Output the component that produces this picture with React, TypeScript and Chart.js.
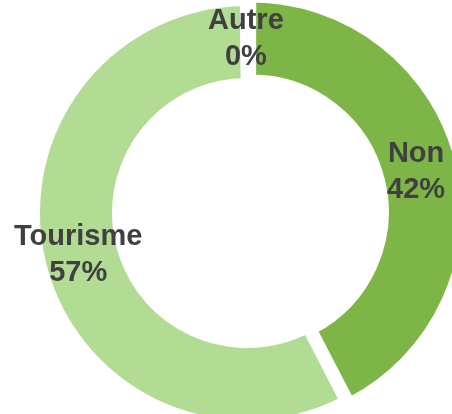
import React, { useEffect, useRef } from "react";
import { Chart, registerables } from "chart.js";

Chart.register(...registerables);

const categories = ["Non", "Tourisme", "Autre"];
const values = [42.4, 57.4, 0.2];
const colors = ["#7DB646", "#B2DC94", "#D9D9D9"];
const offsets = [18, 0, 0];

const labelPlugin = {
  id: "ringLabels",
  afterDatasetsDraw(chart: any) {
    const ctx = chart.ctx;
    const meta = chart.getDatasetMeta(0);
    const data = chart.data.datasets[0].data as number[];
    const total = data.reduce((a: number, b: number) => a + b, 0);
    ctx.save();
    ctx.fillStyle = "#404040";
    ctx.font = "bold 29px 'Liberation Sans', Arial, sans-serif";
    ctx.textAlign = "center";
    ctx.textBaseline = "middle";
    meta.data.forEach((arc: any, i: number) => {
      const { x, y, startAngle, endAngle, innerRadius, outerRadius } = arc.getProps([
        "x",
        "y",
        "startAngle",
        "endAngle",
        "innerRadius",
        "outerRadius",
      ]);
      const half = (startAngle + endAngle) / 2;
      const r = (innerRadius + outerRadius) / 2 + 3;
      const cx = x + Math.cos(half) * r;
      const cy = y + Math.sin(half) * r;
      const pct = Math.round((data[i] / total) * 100) + "%";
      ctx.fillText(chart.data.labels[i], cx, cy - 18);
      ctx.fillText(pct, cx, cy + 18);
    });
    ctx.restore();
  },
};

export default function App() {
  const ref = useRef<HTMLCanvasElement>(null);
  useEffect(() => {
    document.body.style.margin = "0";
    const chart = new Chart(ref.current!, {
      type: "doughnut",
      data: {
        labels: categories,
        datasets: [
          {
            data: values,
            backgroundColor: colors,
            borderColor: "#ffffff",
            borderWidth: 9,
            borderJoinStyle: "miter",
            offset: offsets,
            hoverOffset: 0,
          },
        ],
      },
      options: {
        animation: false,
        responsive: true,
        maintainAspectRatio: false,
        radius: 211.5,
        cutout: "61.7%",
        layout: { padding: { left: 42, top: 12 } },
        plugins: {
          legend: { display: false },
          tooltip: { enabled: false },
        },
      },
      plugins: [labelPlugin],
    } as any);
    return () => chart.destroy();
  }, []);
  return (
    <div style={{ width: 452, height: 414, position: "relative" }}>
      <canvas ref={ref} />
    </div>
  );
}
